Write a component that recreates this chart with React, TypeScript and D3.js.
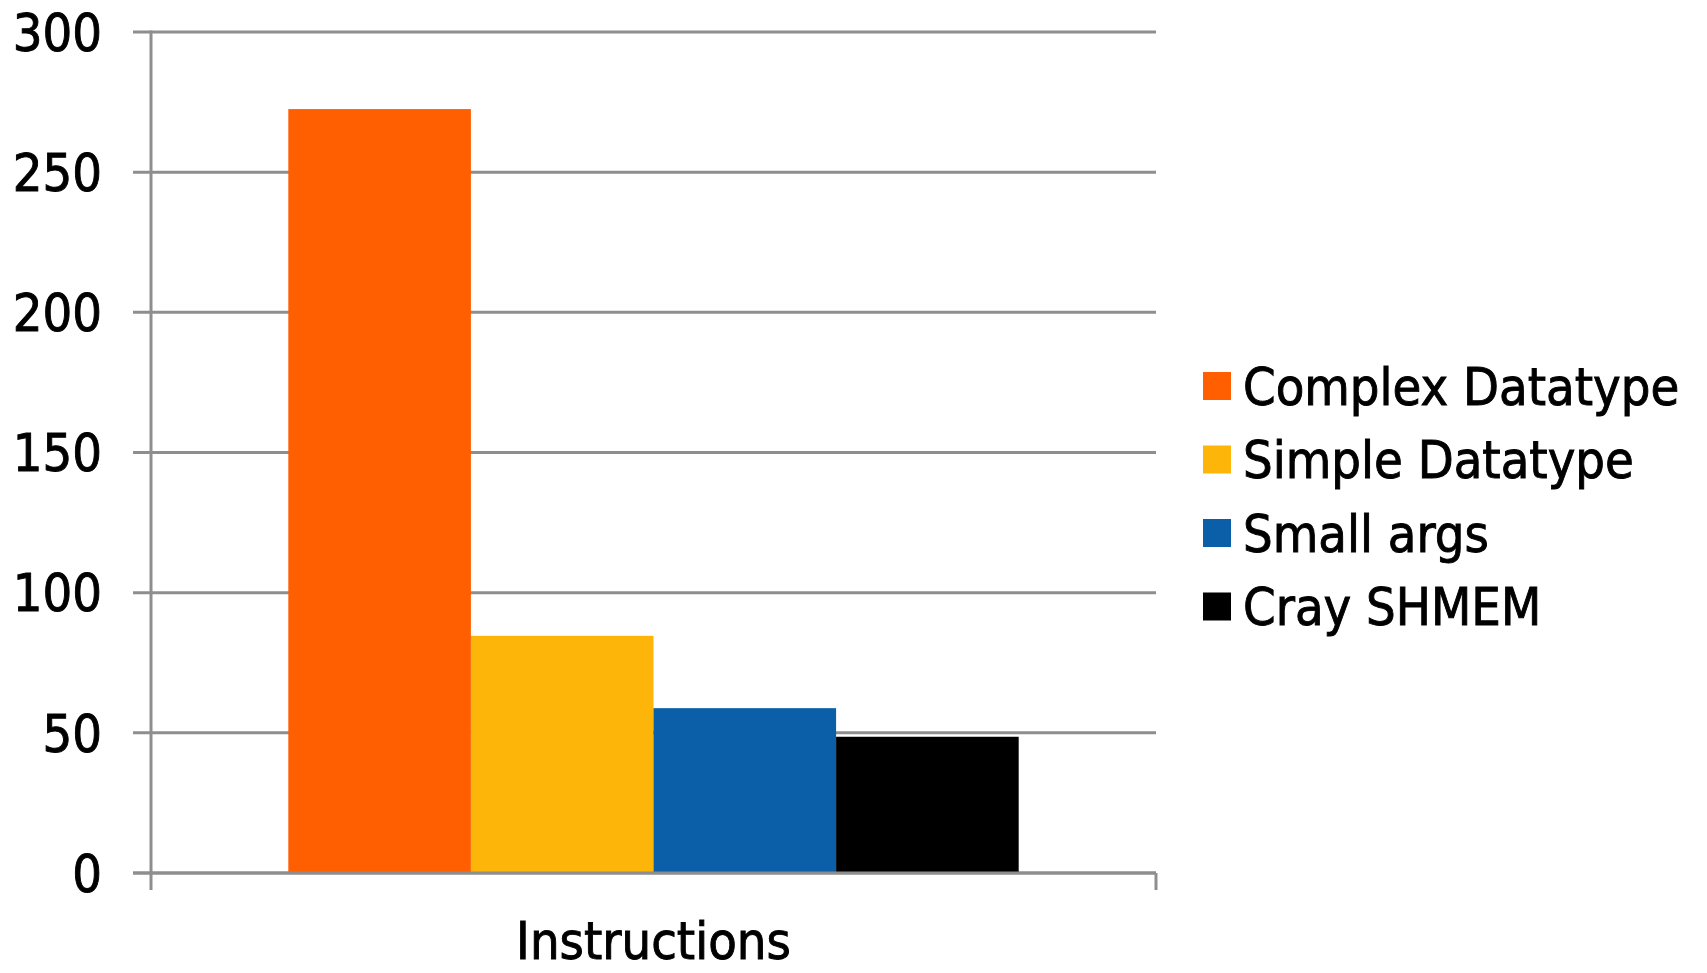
import * as d3 from 'd3';

// chart data
const categories = ['Instructions'];
const seriesNames = ['Complex Datatype', 'Simple Datatype', 'Small args', 'Cray SHMEM'];
const seriesValues = [272.5, 84.6, 58.8, 48.6];
const seriesColours = ['#ff5f00', '#fdb50a', '#0a5fa8', '#000000'];
const yTicks = [0, 50, 100, 150, 200, 250, 300];

const WIDTH = 1707;
const HEIGHT = 973;
const margin = { top: 32, right: 551, bottom: 100, left: 151 };
const FONT = "'DejaVu Sans Condensed', 'DejaVu Sans', sans-serif";
const GRID = '#8e8e8e';

// slightly heavier text, the original uses a Tahoma-like face
const textStyle = { fill: '#000', stroke: '#000', strokeWidth: 0.9 };

export default function App(): JSX.Element {
  const plotBottom = HEIGHT - margin.bottom; // 873
  const plotRight = WIDTH - margin.right; // 1156

  const y = d3.scaleLinear()
    .domain([0, 300])
    .range([plotBottom, margin.top]);

  const x = d3.scaleBand<string>()
    .domain(categories)
    .range([margin.left, plotRight])
    .paddingInner(0)
    .paddingOuter(0.188);

  const xs = d3.scaleBand<string>()
    .domain(seriesNames)
    .range([0, x.bandwidth()])
    .padding(0);

  return (
    <svg
      width={WIDTH}
      height={HEIGHT}
      style={{ position: 'absolute', left: 0, top: 0, background: '#fff' }}
      fontFamily={FONT}
    >
      {/* gridlines and y labels */}
      {yTicks.map(tick => (
        <g key={tick} transform={`translate(0,${y(tick)})`}>
          <line x1={margin.left - 18} x2={plotRight} stroke={GRID} strokeWidth={3} />
          <text x={102} dy="0.36em" textAnchor="end" fontSize={52} {...textStyle}>
            {tick}
          </text>
        </g>
      ))}

      {/* y axis line */}
      <line x1={margin.left} x2={margin.left} y1={margin.top - 1.5} y2={plotBottom + 17} stroke={GRID} strokeWidth={3} />
      {/* category boundary tick at right */}
      <line x1={plotRight} x2={plotRight} y1={plotBottom} y2={plotBottom + 17} stroke={GRID} strokeWidth={3} />

      {/* bars */}
      {categories.map(cat => (
        <g key={cat} transform={`translate(${x(cat)},0)`}>
          {seriesNames.map((name, i) => (
            <rect
              key={name}
              x={xs(name)}
              y={y(seriesValues[i])}
              width={xs.bandwidth()}
              height={plotBottom - y(seriesValues[i])}
              fill={seriesColours[i]}
            />
          ))}
          <text x={x.bandwidth() / 2} y={959} textAnchor="middle" fontSize={52} {...textStyle}>
            {cat}
          </text>
        </g>
      ))}

      {/* baseline drawn over the bars */}
      <line x1={margin.left - 18} x2={plotRight} y1={plotBottom} y2={plotBottom} stroke={GRID} strokeWidth={3} />

      {/* legend */}
      <g transform="translate(1203,386)">
        {seriesNames.map((name, i) => (
          <g key={name} transform={`translate(0,${i * 73.5})`}>
            <rect x={0} y={-14} width={28} height={28} fill={seriesColours[i]} />
            <text x={40} dy="0.36em" fontSize={52} {...textStyle}>
              {name}
            </text>
          </g>
        ))}
      </g>
    </svg>
  );
}
